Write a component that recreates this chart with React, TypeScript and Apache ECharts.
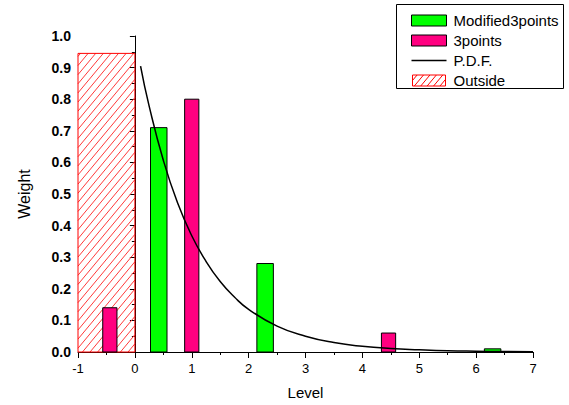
import React, { useEffect, useRef } from 'react';
import * as echarts from 'echarts';

// ---- data ----
const modifiedLevels = [0.42, 2.29, 6.29];
const modifiedWeights = [0.71, 0.28, 0.01];
const threeLevels = [-0.44, 1.0, 4.46];
const threeWeights = [0.14, 0.8, 0.06];
const pdfLevels = [0.1, 0.25, 0.5, 0.75, 1.0, 1.25, 1.5, 1.75, 2.0, 2.5, 3.0, 3.5, 4.0, 4.5, 5.0, 5.5, 6.0, 6.5, 7.0];
const pdfValues = [0.905, 0.779, 0.607, 0.472, 0.368, 0.287, 0.223, 0.174, 0.135, 0.082, 0.05, 0.03, 0.018, 0.011, 0.007, 0.004, 0.0025, 0.0015, 0.0009];
const outsideStart = [-1];
const outsideEnd = [0];
const outsideWeight = [0.945];
const seriesNames = ['Modified3points', '3points', 'P.D.F.', 'Outside'];

const FONT = '"Liberation Sans", Arial, sans-serif';
const GREEN = '#00ff00';
const PINK = '#ff0080';
const RED = '#ff0000';
const GREEN_W = 0.29;
const PINK_W = 0.25;

const barRender = (width: number, fill: string) => (params: any, api: any) => {
  const x = api.value(0);
  const v = api.value(1);
  const a = api.coord([x - width / 2, v]);
  const b = api.coord([x + width / 2, 0]);
  return {
    type: 'rect',
    shape: { x: a[0], y: a[1], width: b[0] - a[0], height: b[1] - a[1] },
    style: { fill, stroke: '#000', lineWidth: 1 },
  };
};

const hatchRender = (params: any, api: any) => {
  const a = api.coord([api.value(0), api.value(2)]);
  const b = api.coord([api.value(1), 0]);
  const x0 = a[0], y0 = a[1], x1 = b[0], y1 = b[1];
  const k = 1.2; // slope dy/dx
  const h = 7.6; // horizontal spacing
  const children: any[] = [];
  for (let c = k * x0 + y0 + 3; c < k * x1 + y1; c += k * h) {
    const xs = Math.max(x0, (c - y1) / k);
    const xe = Math.min(x1, (c - y0) / k);
    if (xe > xs) {
      children.push({
        type: 'line',
        shape: { x1: xs, y1: c - k * xs, x2: xe, y2: c - k * xe },
        style: { stroke: '#ff3a3a', lineWidth: 1 },
      });
    }
  }
  children.push({
    type: 'rect',
    shape: { x: x0, y: y0, width: x1 - x0, height: y1 - y0 },
    style: { fill: 'none', stroke: RED, lineWidth: 1 },
  });
  return { type: 'group', children };
};

const hatchIcon =
  'path://M0,0H36V12H0Z M0,6L5,0 M2,12L12,0 M9,12L19,0 M16,12L26,0 M23,12L33,0 M30,12L36,4.8';
const lineIcon = 'path://M0,0H36V1.4H0Z';

export default function App() {
  const ref = useRef<HTMLDivElement>(null);
  useEffect(() => {
    if (!ref.current) return;
    const chart = echarts.init(ref.current, null, { renderer: 'svg' });
    const option: any = {
      animation: false,
      backgroundColor: '#fff',
      grid: { left: 78, right: 36, top: 36, bottom: 52, containLabel: false },
      legend: {
        orient: 'vertical',
        left: 411,
        top: 10.5,
        padding: 0,
        itemGap: 0,
        itemWidth: 35,
        itemHeight: 11,
        selectedMode: false,
        textStyle: { fontFamily: FONT, fontSize: 15, color: '#000', lineHeight: 20, padding: [0, 0, 0, 2] },
        data: [
          { name: seriesNames[0], icon: 'rect', itemStyle: { color: GREEN, borderColor: '#000', borderWidth: 1 } },
          { name: seriesNames[1], icon: 'rect', itemStyle: { color: PINK, borderColor: '#000', borderWidth: 1 } },
          { name: seriesNames[2], icon: lineIcon, itemStyle: { color: '#000', borderWidth: 0 } },
          { name: seriesNames[3], icon: hatchIcon, itemStyle: { color: '#fff', borderColor: RED, borderWidth: 1 } },
        ],
      },
      graphic: [
        {
          type: 'rect',
          shape: { x: 396.5, y: 4.5, width: 167, height: 84 },
          style: { fill: 'none', stroke: '#000', lineWidth: 1 },
          z: 10,
        },
      ],
      xAxis: {
        type: 'value',
        min: -1,
        max: 7,
        interval: 1,
        name: 'Level',
        nameLocation: 'middle',
        nameGap: 33,
        nameTextStyle: { fontFamily: FONT, fontSize: 15, color: '#000' },
        axisLine: { show: true, onZero: false, lineStyle: { color: '#000', width: 1 } },
        axisTick: { show: true, inside: false, length: 6, lineStyle: { color: '#000' } },
        minorTick: { show: true, splitNumber: 2, length: 3, lineStyle: { color: '#000' } },
        splitLine: { show: false },
        axisLabel: { fontFamily: FONT, fontSize: 13, color: '#000', margin: 10 },
      },
      yAxis: {
        type: 'value',
        min: 0,
        max: 1,
        interval: 0.1,
        name: 'Weight',
        nameLocation: 'middle',
        nameGap: 46,
        nameTextStyle: { fontFamily: FONT, fontSize: 16, color: '#000' },
        axisLine: { show: true, lineStyle: { color: '#000', width: 1 } },
        axisTick: { show: true, inside: false, length: 5, lineStyle: { color: '#000' } },
        minorTick: { show: true, splitNumber: 2, length: 3, lineStyle: { color: '#000' } },
        splitLine: { show: false },
        axisLabel: {
          fontFamily: FONT,
          fontSize: 14,
          fontWeight: 'bold',
          color: '#000',
          margin: 7,
          formatter: (v: number) => v.toFixed(1),
        },
      },
      series: [
        {
          name: seriesNames[3],
          type: 'custom',
          renderItem: hatchRender,
          itemStyle: { color: RED },
          encode: { x: [0, 1], y: 2 },
          data: outsideStart.map((s, i) => [s, outsideEnd[i], outsideWeight[i]]),
          z: 1,
        },
        {
          name: seriesNames[0],
          type: 'custom',
          renderItem: barRender(GREEN_W, GREEN),
          itemStyle: { color: GREEN },
          encode: { x: 0, y: 1 },
          data: modifiedLevels.map((x, i) => [x, modifiedWeights[i]]),
          z: 2,
        },
        {
          name: seriesNames[1],
          type: 'custom',
          renderItem: barRender(PINK_W, PINK),
          itemStyle: { color: PINK },
          encode: { x: 0, y: 1 },
          data: threeLevels.map((x, i) => [x, threeWeights[i]]),
          z: 2,
        },
        {
          name: seriesNames[2],
          type: 'line',
          smooth: true,
          symbol: 'none',
          showSymbol: false,
          lineStyle: { color: '#000', width: 1.5 },
          itemStyle: { color: '#000' },
          data: pdfLevels.map((x, i) => [x, pdfValues[i]]),
          z: 3,
        },
      ],
    };
    chart.setOption(option);
    return () => chart.dispose();
  }, []);
  return (
    <div
      ref={ref}
      style={{ position: 'fixed', left: 0, top: 0, width: 569, height: 405, background: '#fff' }}
    />
  );
}
